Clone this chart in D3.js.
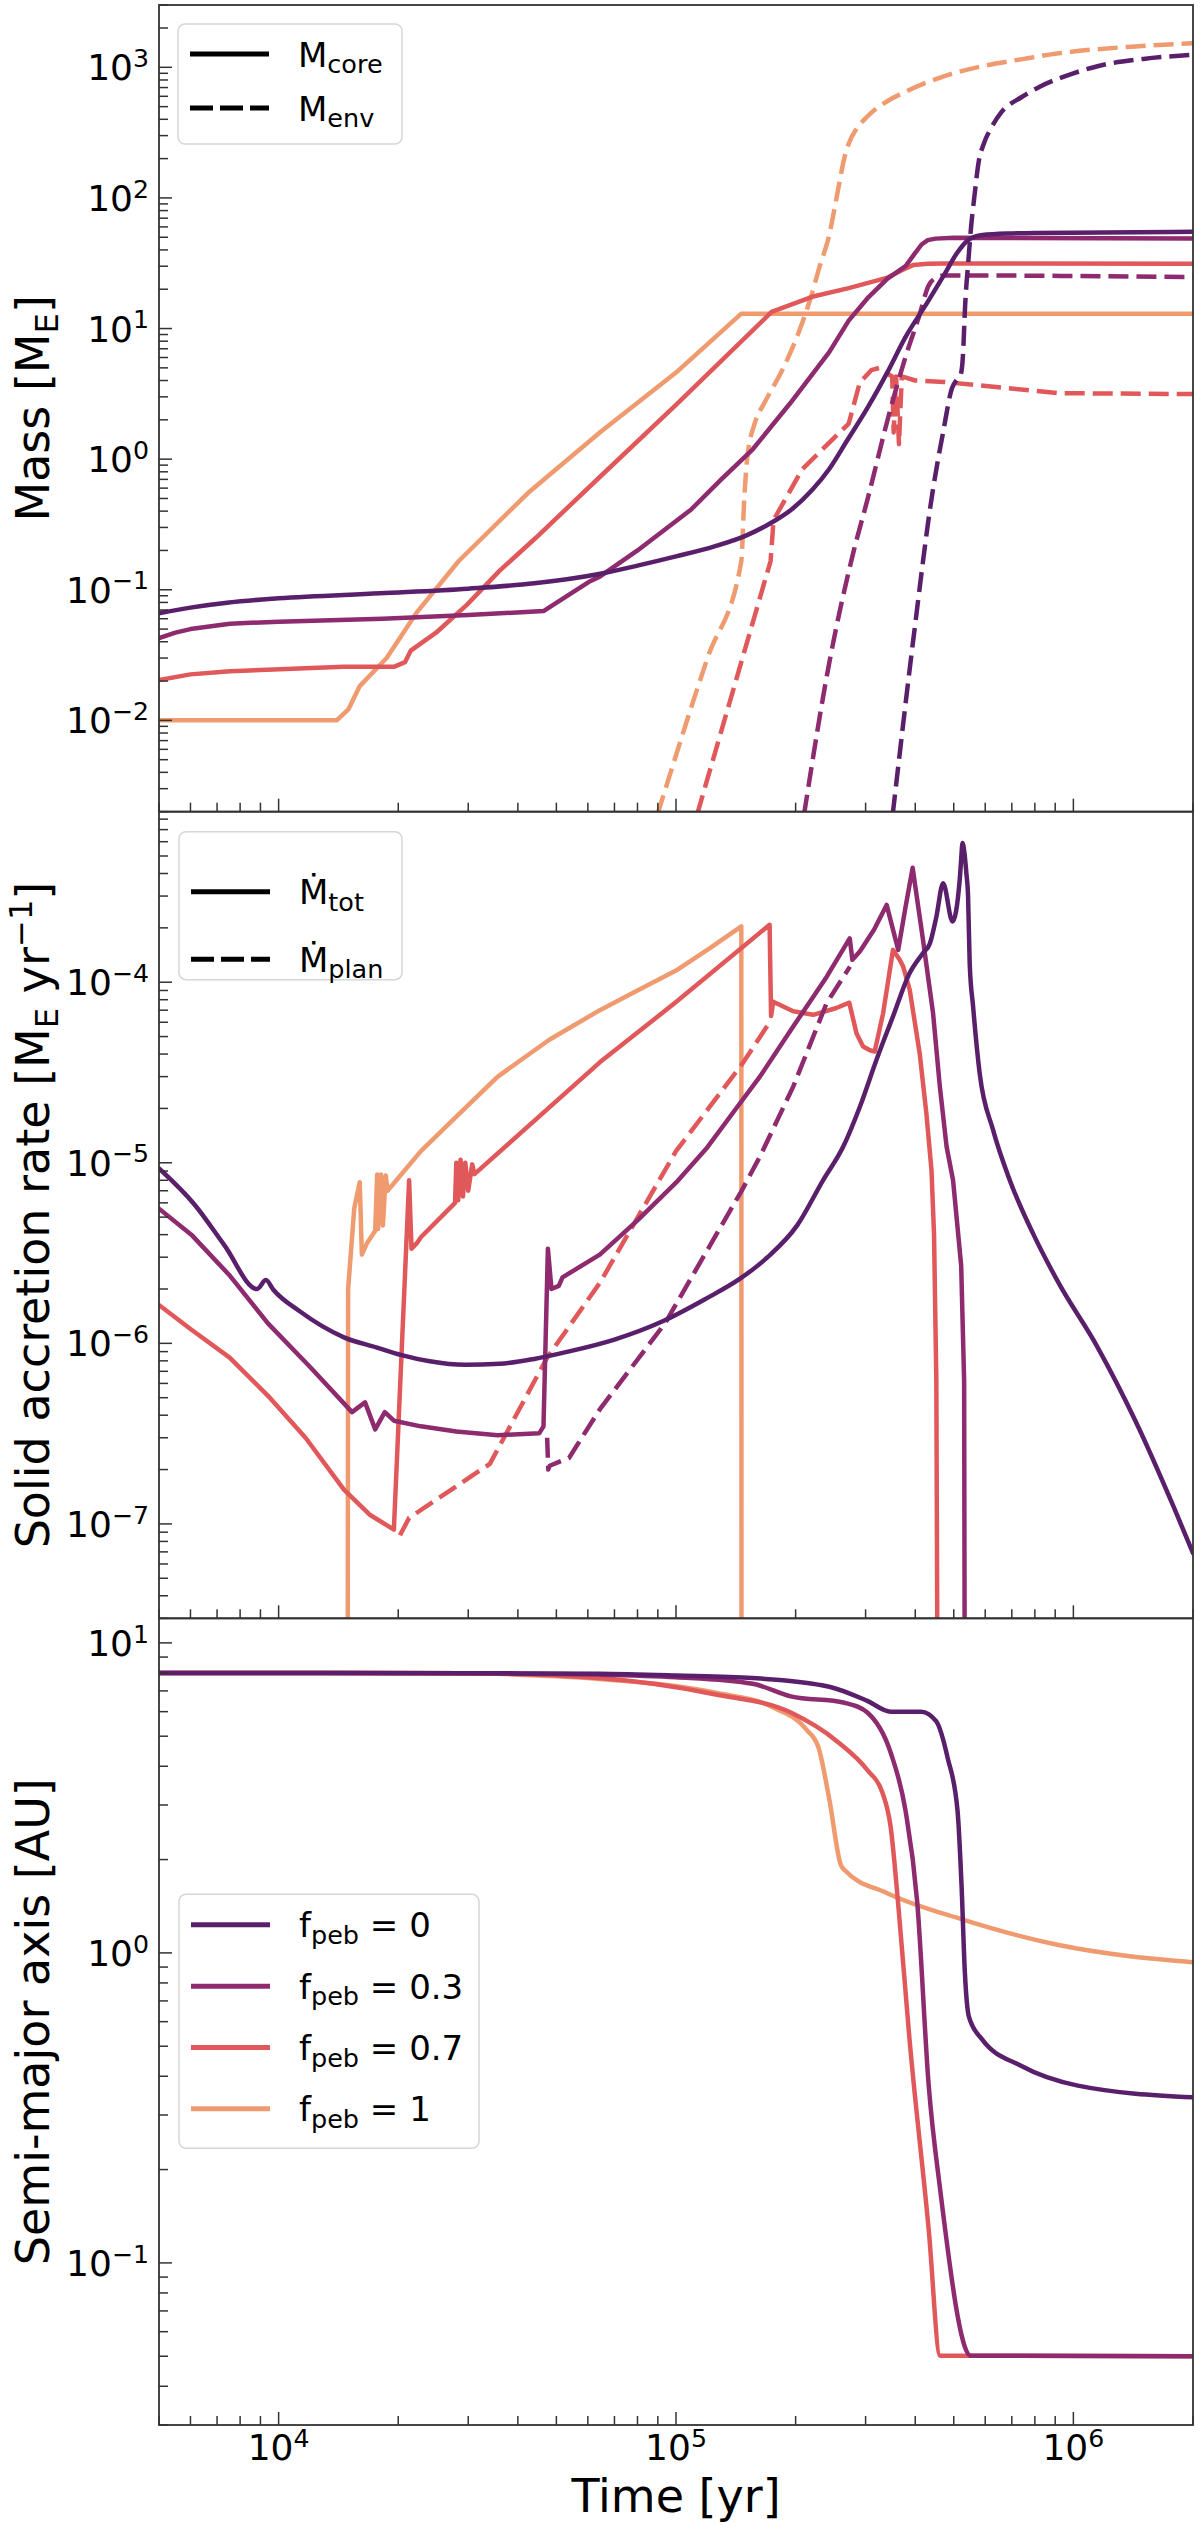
<!DOCTYPE html>
<html><head><meta charset="utf-8">
<script src="https://cdn.jsdelivr.net/npm/d3@7"></script>
<style>body{margin:0;background:#fff} svg{display:block} text{font-family:'DejaVu Sans',sans-serif;fill:#000}</style>
</head><body><svg id="c" width="1200" height="2526"></svg>
<script>
// ---------- data ----------
const fpebLabels = ['0', '0.3', '0.7', '1'];
const colors = ['#5a1f6b', '#8e2a6e', '#e0585a', '#ef9b6f'];
const xTickExps = [4, 5, 6];

// Panel 1: core mass [M_E]
const coreF0 = [[5000,0.066],[6000,0.073],[7500,0.08],[10000,0.086],[18000,0.094],[30000,0.102],[44000,0.112],[64000,0.132],[80000,0.153],[100000,0.18],[125000,0.215],[150000,0.26],[175000,0.33],[195000,0.41],[220000,0.58],[243000,0.84],[270000,1.4],[303000,2.46],[340000,4.6],[378000,8.6],[430000,16],[472000,25.5],[510000,38],[541000,47],[565000,50.5],[590000,52],[700000,53.5],[800000,54],[2000000,55]];
const coreF03 = [[5000,0.0427],[5500,0.047],[6000,0.05],[7540,0.055],[10000,0.057],[18300,0.06],[30000,0.064],[46400,0.0687],[60400,0.115],[64300,0.126],[80000,0.2],[109000,0.41],[130000,0.7],[156000,1.19],[194000,2.69],[243000,6.6],[272000,11.5],[303000,17],[340000,24],[378000,30],[400000,38],[415000,44],[430000,47.5],[450000,48.8],[500000,49.5],[2000000,49]];
const coreF07 = [[5000,0.0204],[6000,0.0225],[7540,0.0238],[14600,0.0257],[19500,0.0257],[20800,0.0279],[21500,0.0342],[24900,0.0469],[29800,0.0769],[36000,0.14],[44400,0.25],[64300,0.73],[100000,2.6],[174000,13.4],[220000,17.5],[272000,20.4],[339000,24.4],[370000,28],[396000,30.7],[430000,31.4],[472000,31.5],[2000000,31.3]];
const coreF1 = [[5000,0.01],[14000,0.01],[15000,0.0122],[16000,0.0183],[18700,0.030],[22300,0.0675],[28400,0.166],[42400,0.55],[64300,1.6],[100000,4.6],[146000,13.0],[2000000,13.0]];

// Panel 1: envelope mass [M_E]
const envF0 = [[351000,0.0019],[396000,0.0428],[443000,0.58],[470000,1.6],[495000,3.5],[510000,4.1],[520000,4.4],[527000,6],[534000,14.9],[545000,35],[552000,57],[565000,110],[577000,185],[595000,260],[620000,340],[659000,454],[740000,590],[823000,710],[1000000,900],[1150000,1020],[1500000,1160],[2000000,1245]];
const envF03 = [[210000,0.0019],[243000,0.0275],[278000,0.181],[303000,0.486],[347000,2.46],[378000,6.05],[409000,12.4],[432000,21.3],[452000,24.5],[472000,25.5],[2000000,24.8]];
const envF07 = [[113000,0.0019],[173000,0.166],[176000,0.342],[208000,0.84],[272000,1.87],[290000,3.85],[310000,4.8],[325000,5.0],[345000,4.4],[350000,4.3],[353000,1.6],[358000,4.3],[364000,1.3],[370000,4.3],[400000,4.0],[472000,3.9],[919000,3.2],[2000000,3.15]];
const envF1 = [[89800,0.0019],[120000,0.03],[146000,0.166],[148500,0.5],[151000,1.0],[158000,1.9],[167000,2.7],[186600,5.05],[204000,9.5],[218000,17],[230000,30],[243000,52],[250000,80],[257000,125],[265000,200],[272000,260],[285000,340],[303000,420],[340000,550],[378000,650],[470000,850],[590000,1020],[750000,1160],[919000,1280],[1400000,1440],[2000000,1530]];

// Panel 2: total solid accretion rate [M_E/yr]
const totF0 = [[5000,9.3e-6],[6170,5.8e-6],[7300,3.5e-6],[8830,2.0e-6],[9290,2.24e-6],[9700,1.98e-6],[11320,1.5e-6],[14600,1.08e-6],[17600,9.5e-7],[20400,8.6e-7],[24000,7.95e-7],[29400,7.6e-7],[36000,7.7e-7],[44000,8.2e-7],[53500,9.0e-7],[70000,1.05e-6],[92900,1.33e-6],[118000,1.75e-6],[144900,2.28e-6],[170000,3.0e-6],[201800,4.5e-6],[234400,8.0e-6],[263600,1.23e-5],[290400,2.05e-5],[319400,3.71e-5],[351600,6.46e-5],[387000,1.12e-4],[418500,1.45e-4],[435400,1.64e-4],[452000,2.3e-4],[470100,3.53e-4],[496400,2.17e-4],[517600,3.7e-4],[522000,4.8e-4],[526000,5.9e-4],[532000,5.2e-4],[538000,4.0e-4],[543200,3.0e-4],[548400,1.27e-4],[559400,7.3e-5],[581000,3.13e-5],[627900,1.52e-5],[691800,8.0e-6],[794000,4.0e-6],[918000,2.16e-6],[1148000,9.6e-7],[1432000,3.73e-7],[1786000,1.25e-7],[2000000,6.9e-8]];
const totF03 = [[5000,5.57e-6],[6030,4.0e-6],[7500,2.4e-6],[9400,1.29e-6],[12000,7.4e-7],[15300,4.16e-7],[16500,4.71e-7],[17500,3.34e-7],[18500,4.16e-7],[19500,3.73e-7],[22800,3.47e-7],[28000,3.25e-7],[35600,3.1e-7],[45300,3.18e-7],[46400,3.47e-7],[47600,3.34e-6],[48600,2.0e-6],[50700,2.08e-6],[51800,2.32e-6],[64300,3.1e-6],[80000,4.8e-6],[100000,7.76e-6],[120000,1.22e-5],[140000,1.93e-5],[162600,3.0e-5],[197200,5.68e-5],[239300,1.07e-4],[273600,1.75e-4],[277900,1.33e-4],[290100,1.48e-4],[315000,1.95e-4],[338900,2.68e-4],[362400,1.51e-4],[378000,2.6e-4],[394000,4.3e-4],[418500,1.71e-4],[443600,6.7e-5],[461300,2.64e-5],[479600,1.23e-5],[498000,8.0e-6],[522000,2.69e-6],[531000,6.2e-7],[534000,1e-9]];
const totF07 = [[5000,1.63e-6],[6000,1.2e-6],[7530,8.34e-7],[9500,5.0e-7],[11700,2.99e-7],[14600,1.55e-7],[17000,1.12e-7],[19500,9.3e-8],[21300,8.0e-6],[21600,3.34e-6],[22300,3.6e-6],[22800,3.87e-6],[27800,6.0e-6],[28000,1.0e-5],[28300,6.2e-6],[28700,1.04e-5],[29100,6.5e-6],[29500,1.0e-5],[30000,7.0e-6],[30700,9.8e-6],[31100,8.65e-6],[64300,3.6e-5],[100000,7.76e-5],[172000,2.08e-4],[173500,6.5e-5],[175700,7.8e-5],[197200,6.9e-5],[221400,6.6e-5],[253300,7.2e-5],[272900,7.7e-5],[284700,5.2e-5],[295600,4.4e-5],[307600,4.2e-5],[316200,4.13e-5],[331900,6.7e-5],[351600,1.51e-4],[365600,1.33e-4],[373000,1.22e-4],[387400,9.06e-5],[410300,4.05e-5],[426600,1.88e-5],[439500,9.1e-6],[446000,4e-6],[452000,6.2e-7],[457000,1e-9]];
const totF1 = [[14900,1e-9],[14960,2.0e-6],[15500,5.6e-6],[16000,7.8e-6],[16200,3.1e-6],[16700,3.6e-6],[17500,4.2e-6],[17700,8.6e-6],[17800,4.3e-6],[18100,8.6e-6],[18300,4.5e-6],[18600,8.5e-6],[18800,7.0e-6],[22800,1.16e-5],[28000,1.8e-5],[35600,3.0e-5],[48000,4.8e-5],[64300,7.0e-5],[80000,9.0e-5],[100000,1.16e-4],[122000,1.55e-4],[146000,2.04e-4],[146200,1e-9]];

// Panel 2: planetesimal accretion rate [M_E/yr]
const planF03 = [[47400,3.0e-7],[47700,2.0e-7],[48100,2.1e-7],[53800,2.32e-7],[64300,4.31e-7],[93800,1.29e-6],[146000,6.95e-6],[162600,1.08e-5],[197200,2.64e-5],[239300,7.65e-5],[274000,1.22e-4]];
const planF07 = [[20200,8.65e-8],[21300,1.08e-7],[34000,2.15e-7],[47400,8.34e-7],[64300,2.16e-6],[100000,1.16e-5],[146000,3.47e-5],[174000,6.22e-5]];

// Panel 3: semi-major axis [AU]
const aF0 = [[5000,8],[30000,7.98],[64000,7.95],[100000,7.85],[156000,7.7],[243000,7.22],[303000,6.5],[347000,6.0],[414000,6.0],[452000,5.58],[483000,4.24],[511000,2.88],[523000,1.66],[533000,0.875],[546000,0.622],[590000,0.525],[736000,0.433],[1026000,0.373],[2000000,0.342]];
const aF03 = [[5000,8],[30000,7.98],[64000,7.9],[100000,7.75],[156000,7.38],[194500,6.72],[265500,6.41],[303000,5.96],[347000,4.42],[378000,2.88],[404600,1.46],[432500,0.373],[462000,0.173],[552000,0.0502],[2000000,0.05]];
const aF07 = [[5000,8],[30000,7.98],[64000,7.7],[125000,6.83],[194500,5.96],[254000,4.82],[303000,3.89],[331000,3.28],[347000,2.54],[362000,1.46],[387000,0.525],[432500,0.128],[462000,0.0502],[2000000,0.05]];
const aF1 = [[5000,8],[30000,7.98],[50000,7.8],[64000,7.65],[125000,6.92],[174000,6.22],[213000,5.25],[228000,4.62],[243000,3.14],[260000,1.92],[265500,1.85],[339000,1.56],[527000,1.28],[918000,1.06],[2000000,0.933]];

// ---------- layout ----------
const svg = d3.select('#c');
const xL = 159, xR = 1193;
const panelH = (2425 - 5) / 3;
const x = d3.scaleLog().domain([5e3, 2e6]).range([xL, xR]);
const TICK_FS = 36, LABEL_FS = 46, LEG_FS = 34;
const axisColor = '#333';

function rich(g, px, py, parts, size, anchor) {
  const t = g.append('text').attr('x', px).attr('y', py).attr('font-size', size).attr('text-anchor', anchor || 'start');
  let shift = 0;
  parts.forEach(p => {
    const sp = t.append('tspan').text(p.t);
    let target = 0;
    if (p.sub) target = size * (p.off || 0.2);
    if (p.sup) target = -size * (p.off || 0.37);
    sp.attr('dy', target - shift);
    shift = target;
    if (p.sub || p.sup) sp.attr('font-size', size * (p.scale || 0.7));
  });
  return t;
}

function panel(idx, yDomain, majorExps, series, label, legend) {
  const top = 5 + idx * panelH, bottom = top + panelH;
  const y = d3.scaleLog().domain(yDomain).range([bottom, top]);
  const g = svg.append('g');
  const clipId = 'clip' + idx;
  svg.append('clipPath').attr('id', clipId).append('rect')
    .attr('x', xL).attr('y', top).attr('width', xR - xL).attr('height', bottom - top);
  const yMin = yDomain[0] / 50;
  const lineSmooth = d3.line().curve(d3.curveMonotoneX)
    .x(d => x(d[0])).y(d => y(Math.max(d[1], yMin)));
  const lineLin = d3.line()
    .x(d => x(d[0])).y(d => y(Math.max(d[1], yMin)));
  const lg = g.append('g').attr('clip-path', `url(#${clipId})`);
  series.forEach(s => {
    lg.append('path').datum(s.data).attr('d', s.smooth ? lineSmooth : lineLin).attr('fill', 'none')
      .attr('stroke', s.color).attr('stroke-width', 4.5)
      .attr('stroke-linejoin', 'round').attr('stroke-linecap', s.dash ? 'butt' : 'round')
      .attr('stroke-dasharray', s.dash ? '20,8' : null);
  });
  // y ticks
  const lo = Math.floor(Math.log10(yDomain[0])), hi = Math.ceil(Math.log10(yDomain[1]));
  const tg = g.append('g').attr('stroke', axisColor).attr('stroke-width', 1.5);
  for (let e = lo; e <= hi; e++) {
    for (let m = 1; m <= 9; m++) {
      const v = m * Math.pow(10, e);
      if (v < yDomain[0] || v > yDomain[1]) continue;
      const py = y(v);
      tg.append('line').attr('x1', xL).attr('x2', xL + (m === 1 ? 13 : 9)).attr('y1', py).attr('y2', py);
    }
  }
  majorExps.forEach(e => {
    const py = y(Math.pow(10, e));
    const ex = e < 0 ? '\u2212' + (-e) : String(e);
    rich(g, xL - 10, py + 13, [{t: '10'}, {t: ex, sup: true}], TICK_FS, 'end');
  });
  // x ticks
  for (let e = 3; e <= 6; e++) {
    for (let m = 1; m <= 9; m++) {
      const v = m * Math.pow(10, e);
      if (v < 5e3 - 1 || v > 2e6 + 1) continue;
      const px = x(v);
      tg.append('line').attr('x1', px).attr('x2', px).attr('y1', bottom).attr('y2', bottom - (m === 1 ? 13 : 9));
    }
  }
  // frame
  g.append('rect').attr('x', xL).attr('y', top).attr('width', xR - xL).attr('height', bottom - top)
    .attr('fill', 'none').attr('stroke', axisColor).attr('stroke-width', 1.8);
  // y label
  const cy = (top + bottom) / 2;
  const lab = rich(g, 0, 0, label, LABEL_FS, 'middle');
  lab.attr('transform', `translate(49,${cy}) rotate(-90)`);
  // legend
  const L = legend;
  const lgd = g.append('g');
  lgd.append('rect').attr('x', L.x).attr('y', top + L.y).attr('width', L.w).attr('height', L.h)
    .attr('rx', 7).attr('fill', '#fff').attr('fill-opacity', 0.85).attr('stroke', '#d6d6d6').attr('stroke-width', 1.5);
  L.items.forEach((it, i) => {
    const ly = top + L.y + L.first + i * L.step;
    lgd.append('line').attr('x1', L.x + 12).attr('x2', L.x + 91).attr('y1', ly).attr('y2', ly)
      .attr('stroke', it.color).attr('stroke-width', 5).attr('stroke-dasharray', it.dash ? '23,7' : null);
    rich(lgd, L.x + 120, ly + 12.5, it.parts, LEG_FS, 'start');
  });
  return y;
}

const ss = (d, i, dash, smooth) => ({data: d, color: colors[i], dash: dash, smooth: smooth});
const subL = {sub: true, scale: 0.75, off: 0.2};

panel(0, [2e-3, 3e3], [-2, -1, 0, 1, 2, 3], [
  ss(coreF1, 3), ss(envF1, 3, true, true),
  ss(coreF07, 2), ss(envF07, 2, true),
  ss(coreF03, 1), ss(envF03, 1, true, true),
  ss(coreF0, 0, false, true), ss(envF0, 0, true, true)
], [{t: 'Mass [M'}, {t: 'E', sub: true}, {t: ']'}], {
  x: 178, y: 19, w: 224, h: 120, first: 30, step: 54,
  items: [
    {color: '#000', dash: false, parts: [{t: 'M'}, Object.assign({t: 'core'}, subL)]},
    {color: '#000', dash: true, parts: [{t: 'M'}, Object.assign({t: 'env'}, subL)]}
  ]
});

panel(1, [3e-8, 8.8e-4], [-7, -6, -5, -4], [
  ss(totF1, 3),
  ss(totF07, 2), ss(planF07, 2, true),
  ss(totF03, 1), ss(planF03, 1, true),
  ss(totF0, 0, false, true)
], [{t: 'Solid accretion rate [M'}, {t: 'E', sub: true}, {t: ' yr'}, {t: '\u22121', sup: true}, {t: ']'}], {
  x: 179, y: 20, w: 223, h: 148, first: 60, step: 67.5,
  items: [
    {color: '#000', dash: false, parts: [{t: '\u1E40'}, Object.assign({t: 'tot'}, subL)]},
    {color: '#000', dash: true, parts: [{t: '\u1E40'}, Object.assign({t: 'plan'}, subL)]}
  ]
});

panel(2, [0.03, 12], [-1, 0, 1], [
  ss(aF1, 3, false, true), ss(aF07, 2, false, true), ss(aF03, 1, false, true), ss(aF0, 0, false, true)
], [{t: 'Semi-major axis [AU]'}], {
  x: 179, y: 276, w: 300, h: 254, first: 30.5, step: 61.3,
  items: fpebLabels.map((f, i) => ({color: colors[i], dash: false,
    parts: [{t: 'f'}, Object.assign({t: 'peb'}, subL), {t: ' = ' + f}]}))
});

// x tick labels & axis label (bottom panel only)
const bg = svg.append('g');
xTickExps.forEach(e => {
  rich(bg, x(Math.pow(10, e)), 2460, [{t: '10'}, {t: String(e), sup: true}], TICK_FS, 'middle');
});
bg.append('text').attr('x', (xL + xR) / 2).attr('y', 2512).attr('text-anchor', 'middle')
  .attr('font-size', LABEL_FS).text('Time [yr]');
</script></body></html>
